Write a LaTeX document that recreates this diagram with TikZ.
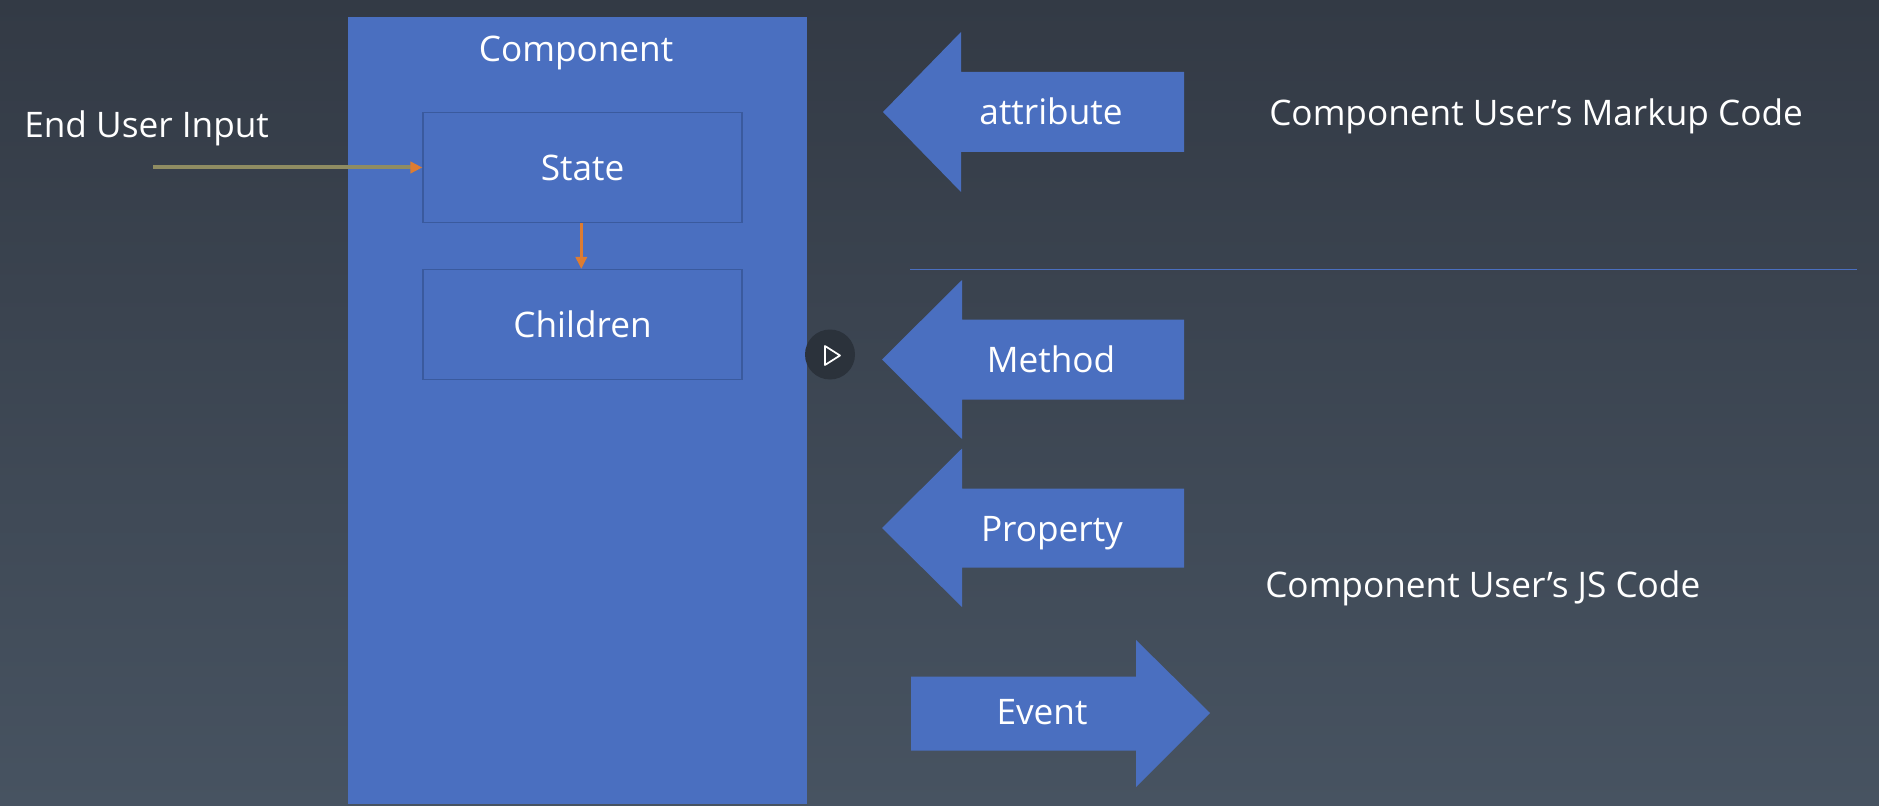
\documentclass[tikz,border=0pt]{standalone}
\usepackage{fontspec}
\setmainfont{Open Sans}
\definecolor{bluefill}{HTML}{4A6FC0}
\definecolor{boxline}{HTML}{3A5A9E}
\definecolor{topbg}{HTML}{333A45}
\definecolor{botbg}{HTML}{475361}
\definecolor{orangeline}{HTML}{DD7C32}
\definecolor{oliveline}{HTML}{8F8C62}
\definecolor{playbg}{HTML}{2B323B}
\usetikzlibrary{arrows.meta}
\tikzset{
  x=0.75pt,y=-0.75pt,
  lbl/.style={text=white,font=\fontsize{26.4}{30}\selectfont,inner sep=0pt,text height=20.7pt,text depth=1.3pt},
  panel/.style={fill=bluefill,draw=none},
  inner box/.style={draw=boxline,line width=1pt,fill=bluefill,minimum width=239.25pt,minimum height=82.5pt,inner sep=0pt},
  flow/.style={orangeline,line width=2pt,-{Triangle[length=9pt,width=8.5pt]}},
  feed/.style={oliveline,line width=3pt,-{Triangle[length=9pt,width=8.5pt,color=orangeline]}},
}
\begin{document}
\begin{tikzpicture}
\useasboundingbox (0,0) rectangle (1879,806);
\shade[top color=topbg,bottom color=botbg,shading angle=0] (0,0) rectangle (1879,806);
% component panel
\fill[panel] (348,17.5) rectangle (806.5,803.5);
\node[lbl] (component) at (576,49) {Component};
\node[inner box,lbl] (state) at (582.5,167.5) {State};
\node[inner box,lbl] (children) at (582.5,324.5) {Children};
\node[lbl,anchor=west] (input) at (24,124.5) {End User Input};
\coordinate (feedstart) at (153,167.5);
\draw[feed] (feedstart) -- (state.west);
\draw[flow] ([xshift=-0.9pt]state.south) -- ([xshift=-0.9pt]children.north);
% play button
\coordinate (playc) at (830,354.5);
\fill[playbg] (playc) circle (25);
\draw[white,line width=1.3pt,line join=round] (825,346) -- (840,355.5) -- (825,365) -- cycle;
% divider
\coordinate (divl) at (910,269.5);
\coordinate (divr) at (1857,269.5);
\draw[bluefill,line width=1pt] (divl) -- (divr);
% block arrows
\fill[panel] (883,112) -- (961,32) -- (961,72) -- (1184,72) -- (1184,152) -- (961,152) -- (961,192) -- cycle;
\node[lbl] (attribute) at (1051,112) {attribute};
\fill[panel] (882,359.5) -- (962,280) -- (962,319.5) -- (1184,319.5) -- (1184,399.5) -- (962,399.5) -- (962,439) -- cycle;
\node[lbl] (method) at (1051,360) {Method};
\fill[panel] (882,528) -- (962,448.5) -- (962,488.5) -- (1184,488.5) -- (1184,567.5) -- (962,567.5) -- (962,607) -- cycle;
\node[lbl] (property) at (1052,529) {Property};
\fill[panel] (1210,713) -- (1136,640) -- (1136,676.5) -- (911,676.5) -- (911,750.5) -- (1136,750.5) -- (1136,787) -- cycle;
\node[lbl] (event) at (1042,712) {Event};
% side labels
\node[lbl,anchor=west] (markup) at (1269,112.5) {Component User’s Markup Code};
\node[lbl,anchor=west] (jscode) at (1265,585) {Component User’s JS Code};
\end{tikzpicture}
\end{document}
